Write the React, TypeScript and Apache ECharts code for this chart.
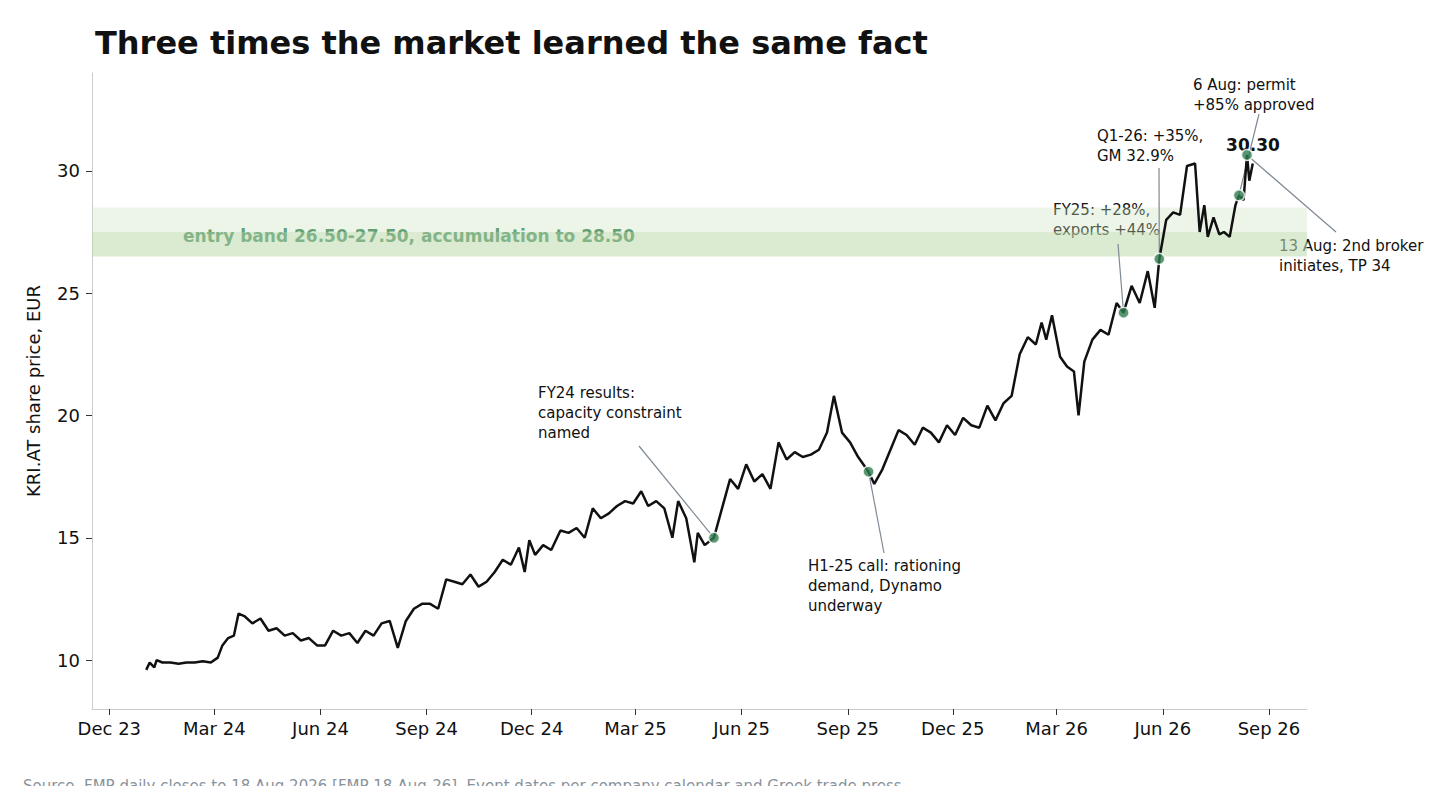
import React, { useEffect, useRef } from "react";
import * as echarts from "echarts";

const priceDates = [
"2024-01-02","2024-01-05","2024-01-09","2024-01-11","2024-01-16","2024-01-23","2024-01-30","2024-02-06","2024-02-13","2024-02-20","2024-02-27","2024-03-04","2024-03-08","2024-03-13","2024-03-18","2024-03-22","2024-03-27","2024-04-03","2024-04-10","2024-04-17","2024-04-24","2024-05-01","2024-05-08","2024-05-15","2024-05-22","2024-05-29","2024-06-05","2024-06-12","2024-06-19","2024-06-26","2024-07-03","2024-07-10","2024-07-17","2024-07-24","2024-07-31","2024-08-07","2024-08-14","2024-08-21","2024-08-28","2024-09-04","2024-09-11","2024-09-18","2024-09-25","2024-10-02","2024-10-09","2024-10-16","2024-10-23","2024-10-30","2024-11-06","2024-11-13","2024-11-20","2024-11-25","2024-11-29","2024-12-04","2024-12-11","2024-12-18","2024-12-26","2025-01-02","2025-01-09","2025-01-16","2025-01-23","2025-01-30","2025-02-06","2025-02-13","2025-02-20","2025-02-27","2025-03-06","2025-03-12","2025-03-19","2025-03-26","2025-04-02","2025-04-07","2025-04-14","2025-04-21","2025-04-24","2025-04-30","2025-05-08","2025-05-15","2025-05-22","2025-05-29","2025-06-05","2025-06-12","2025-06-19","2025-06-26","2025-07-03","2025-07-10","2025-07-17","2025-07-24","2025-07-31","2025-08-07","2025-08-14","2025-08-20","2025-08-27","2025-09-03","2025-09-10","2025-09-19","2025-09-24","2025-10-01","2025-10-08","2025-10-15","2025-10-22","2025-10-29","2025-11-05","2025-11-12","2025-11-19","2025-11-26","2025-12-03","2025-12-10","2025-12-17","2025-12-24","2025-12-31","2026-01-07","2026-01-14","2026-01-21","2026-01-28","2026-02-04","2026-02-11","2026-02-16","2026-02-20","2026-02-25","2026-03-04","2026-03-10","2026-03-16","2026-03-20","2026-03-25","2026-04-01","2026-04-08","2026-04-15","2026-04-22","2026-04-28","2026-05-05","2026-05-12","2026-05-19","2026-05-25","2026-05-29","2026-06-04","2026-06-10","2026-06-16","2026-06-22","2026-06-29","2026-07-03","2026-07-07","2026-07-10","2026-07-15","2026-07-20","2026-07-24","2026-07-29","2026-08-03","2026-08-06","2026-08-10","2026-08-13","2026-08-15","2026-08-18"
];
const priceValues = [
9.6,9.9,9.7,10.0,9.9,9.9,9.85,9.9,9.9,9.95,9.9,10.1,10.6,10.9,11.0,11.9,11.8,11.5,11.7,11.2,11.3,11.0,11.1,10.8,10.9,10.6,10.6,11.2,11.0,11.1,10.7,11.2,11.0,11.5,11.6,10.5,11.6,12.1,12.3,12.3,12.1,13.3,13.2,13.1,13.5,13.0,13.2,13.6,14.1,13.9,14.6,13.6,14.9,14.3,14.7,14.5,15.3,15.2,15.4,15.0,16.2,15.8,16.0,16.3,16.5,16.4,16.9,16.3,16.5,16.2,15.0,16.5,15.8,14.0,15.2,14.7,15.0,16.2,17.4,17.0,18.0,17.3,17.6,17.0,18.9,18.2,18.5,18.3,18.4,18.6,19.3,20.8,19.3,18.9,18.3,17.7,17.2,17.8,18.6,19.4,19.2,18.8,19.5,19.3,18.9,19.6,19.2,19.9,19.6,19.5,20.4,19.8,20.5,20.8,22.5,23.2,22.9,23.8,23.1,24.1,22.4,22.0,21.8,20.0,22.2,23.1,23.5,23.3,24.6,24.2,25.3,24.6,25.9,24.4,26.4,28.0,28.3,28.2,30.2,30.3,27.5,28.6,27.3,28.1,27.4,27.5,27.3,28.6,29.0,28.8,30.65,29.6,30.3
];
const eventDates = ["2025-05-08","2025-09-19","2026-04-28","2026-05-29","2026-08-06","2026-08-13"];
const eventValues = [15.0,17.7,24.2,26.4,29.0,30.65];
const eventLabels = [
"FY24 results:\ncapacity constraint\nnamed",
"H1-25 call: rationing\ndemand, Dynamo\nunderway",
"FY25: +28%,\nexports +44%",
"Q1-26: +35%,\nGM 32.9%",
"6 Aug: permit\n+85% approved",
"13 Aug: 2nd broker\ninitiates, TP 34",
];
const labelBoxes = [
  { x: 530, y: 375, ax: 631, ay: 438 },
  { x: 800, y: 548, ax: 876, ay: 545 },
  { x: 1045, y: 192, ax: 1110, ay: 236 },
  { x: 1089, y: 118, ax: 1151, ay: 160 },
  { x: 1185, y: 67, ax: 1251, ay: 106 },
  { x: 1271, y: 228, ax: 1328, ay: 224 },
];
const yTicks = [10, 15, 20, 25, 30];
const xTicks = ["2023-12-01","2024-03-01","2024-06-01","2024-09-01","2024-12-01","2025-03-01","2025-06-01","2025-09-01","2025-12-01","2026-03-01","2026-06-01","2026-09-01"];
const months = ["Jan","Feb","Mar","Apr","May","Jun","Jul","Aug","Sep","Oct","Nov","Dec"];
const FONT = "DejaVu Sans";
const GREEN = "#2e7d4f";

export default function App() {
  const ref = useRef<HTMLDivElement>(null);
  useEffect(() => {
    const chart = echarts.init(ref.current!, null, { renderer: "svg" });
    const ts = (d: string) => new Date(d + "T00:00:00Z").getTime();
    const n = Math.min(priceDates.length, priceValues.length);
    chart.setOption({
      animation: false,
      textStyle: { fontFamily: FONT },
      title: { text: "Three times the market learned the same fact", left: 82, top: 14, textStyle: { fontFamily: FONT, fontSize: 32, fontWeight: "bold", color: "#111" } },
      grid: { left: 84, right: 141, top: 65, bottom: 77 },
      xAxis: {
        type: "value", min: ts("2023-11-16"), max: ts("2026-10-04"),
        axisLine: { lineStyle: { color: "#ccc" } },
        axisTick: { show: true, customValues: xTicks.map(ts), length: 6, lineStyle: { color: "#333" } },
        splitLine: { show: false },
        axisLabel: {
          customValues: xTicks.map(ts), fontSize: 18, color: "#111", margin: 10, fontFamily: FONT,
          formatter: (v: number) => { const d = new Date(v); return months[d.getUTCMonth()] + " " + String(d.getUTCFullYear()).slice(2); },
        },
      },
      yAxis: {
        type: "value", min: 8, max: 34,
        name: "KRI.AT share price, EUR", nameLocation: "middle", nameGap: 50,
        nameTextStyle: { fontSize: 18, color: "#111", fontFamily: FONT },
        axisLine: { show: true, lineStyle: { color: "#ccc" } },
        axisTick: { show: true, customValues: yTicks, length: 6, lineStyle: { color: "#333" } },
        axisLabel: { customValues: yTicks, fontSize: 18, color: "#111", margin: 12, fontFamily: FONT },
        splitLine: { show: false },
      },
      series: [
        {
          type: "line", data: priceDates.slice(0, n).map((d, i) => [ts(d), priceValues[i]]),
          showSymbol: false, lineStyle: { color: "#111", width: 2.5 }, z: 3,
          markArea: {
            silent: true,
            data: [
              [{ yAxis: 26.5, itemStyle: { color: "rgba(200,225,185,0.35)" } }, { yAxis: 28.5 }],
              [{ yAxis: 26.5, itemStyle: { color: "rgba(190,218,172,0.35)" } }, { yAxis: 27.5 }],
            ],
          },
        },
        {
          type: "scatter", data: eventDates.map((d, i) => [ts(d), eventValues[i]]),
          symbolSize: 11, itemStyle: { color: GREEN, borderColor: "#fff", borderWidth: 1.5 }, z: 5,
        },
      ],
    });
    const pts = eventDates.map((d, i) => chart.convertToPixel({ gridIndex: 0 }, [ts(d), eventValues[i]]) as number[]);
    const graphic: any[] = [
      { type: "text", left: 175, top: 219, style: { text: "entry band 26.50-27.50, accumulation to 28.50", fill: GREEN, font: `bold 17px "${FONT}"` } },
      { type: "text", x: pts[5][0] + 6, y: 137, style: { text: "30.30", fill: "#111", font: `bold 17px "${FONT}"`, align: "center", verticalAlign: "middle" } },
      { type: "text", left: 15, top: 770, style: { text: "Source. FMP daily closes to 18 Aug 2026 [FMP 18-Aug-26]. Event dates per company calendar and Greek trade press.", fill: "#8a939c", font: `15px "${FONT}"` } },
    ];
    labelBoxes.forEach((b, i) => {
      graphic.push({ type: "text", left: b.x, top: b.y, style: { text: eventLabels[i], fill: "#111", font: `15px "${FONT}"`, lineHeight: 20 } });
      graphic.push({ type: "line", shape: { x1: b.ax, y1: b.ay, x2: pts[i][0], y2: pts[i][1] }, style: { stroke: "#7f8a94", lineWidth: 1.2 }, z: 1 });
    });
    chart.setOption({ graphic });
    return () => chart.dispose();
  }, []);
  return <div ref={ref} style={{ width: 1440, height: 778 }} />;
}
